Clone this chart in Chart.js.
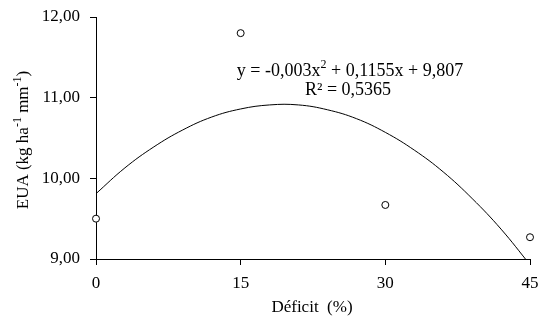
<!DOCTYPE html>
<html>
<head>
<meta charset="utf-8">
<script src="https://cdn.jsdelivr.net/npm/chart.js@4/dist/chart.umd.min.js"></script>
<style>
  html, body { margin: 0; padding: 0; background: #fff; }
  #wrap { width: 538px; height: 320px; }
</style>
</head>
<body>
<div id="wrap"><canvas id="chart" width="538" height="320"></canvas></div>
<script>
// observed values
const deficit = [0, 15, 30, 45];
const eua = [9.5, 11.8, 9.67, 9.27];

// trend curve
const curveX = [0, 3, 6, 9, 12, 15, 18, 21, 24, 27, 30, 33, 36, 39, 42, 45];
const curveY = [9.81, 10.13, 10.39, 10.60, 10.76, 10.86, 10.91, 10.91, 10.85, 10.74, 10.57, 10.35, 10.08, 9.75, 9.37, 8.93];

const yTicks = [9, 10, 11, 12];
const xTicks = [0, 15, 30, 45];

const FONT = '"Liberation Serif", "Times New Roman", serif';

// draws text pieces, some as superscript, centered on cx
function drawRich(ctx, parts, cx, cy, size) {
  const supSize = Math.round(size * 0.68);
  let total = 0;
  parts.forEach(p => {
    ctx.font = (p.sup ? supSize : size) + 'px ' + FONT;
    p.w = ctx.measureText(p.t).width;
    total += p.w;
  });
  let x = cx - total / 2;
  ctx.textBaseline = 'middle';
  ctx.textAlign = 'left';
  parts.forEach(p => {
    ctx.font = (p.sup ? supSize : size) + 'px ' + FONT;
    ctx.fillText(p.t, x, p.sup ? cy - size * 0.35 : cy);
    x += p.w;
  });
}

const labelsPlugin = {
  id: 'labels',
  afterDraw(chart) {
    const ctx = chart.ctx;
    ctx.save();
    ctx.fillStyle = '#000';
    // equation
    drawRich(ctx, [
      { t: 'y = -0,003x' }, { t: '2', sup: true }, { t: ' + 0,1155x + 9,807' }
    ], 350, 71, 18);
    drawRich(ctx, [{ t: 'R² = 0,5365' }], 348, 90, 18);
    // x title
    drawRich(ctx, [{ t: 'Déficit  (%)' }], 312, 308, 17);
    // y title, rotated
    ctx.translate(24, 140);
    ctx.rotate(-Math.PI / 2);
    drawRich(ctx, [
      { t: 'EUA (kg ha' }, { t: '-1', sup: true }, { t: ' mm' }, { t: '-1', sup: true }, { t: ')' }
    ], 0, 0, 17);
    ctx.restore();
  }
};

new Chart(document.getElementById('chart'), {
  type: 'scatter',
  data: {
    datasets: [
      {
        data: curveX.map((x, i) => ({ x: x, y: curveY[i] })),
        showLine: true,
        borderColor: '#000',
        borderWidth: 1,
        pointRadius: 0,
        tension: 0.4,
        order: 2
      },
      {
        data: deficit.map((x, i) => ({ x: x, y: eua[i] })),
        pointRadius: 3.5,
        borderWidth: 1,
        borderColor: '#000',
        backgroundColor: '#fff',
        clip: false,
        order: 1
      }
    ]
  },
  options: {
    responsive: false,
    animation: false,
    layout: { padding: { top: 17, right: 8, left: 0, bottom: 0 } },
    plugins: {
      legend: { display: false },
      tooltip: { enabled: false }
    },
    scales: {
      x: {
        type: 'linear',
        min: 0,
        max: 45,
        afterFit: s => { s.height = 61; s.paddingLeft = 0; s.paddingRight = 0; },
        afterBuildTicks: s => { s.ticks = xTicks.map(v => ({ value: v })); },
        border: { color: '#000', width: 1 },
        grid: { drawOnChartArea: false, color: '#000', tickLength: 6 },
        ticks: { color: '#000', padding: 8, maxRotation: 0, font: { family: FONT, size: 17 } }
      },
      y: {
        min: 9,
        max: 12,
        afterFit: s => { s.width = 96; s.paddingTop = 0; s.paddingBottom = 0; },
        afterBuildTicks: s => { s.ticks = yTicks.map(v => ({ value: v })); },
        border: { color: '#000', width: 1 },
        grid: { drawOnChartArea: false, color: '#000', tickLength: 6 },
        ticks: {
          color: '#000',
          padding: 10,
          font: { family: FONT, size: 17 },
          callback: v => v.toFixed(2).replace('.', ',')
        }
      }
    }
  },
  plugins: [labelsPlugin]
});
</script>
</body>
</html>
